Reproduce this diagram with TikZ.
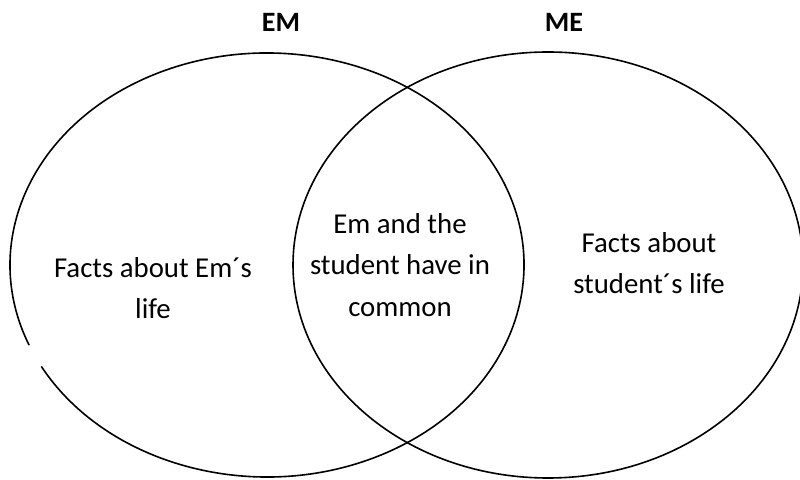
\documentclass[tikz,border=0pt]{standalone}
\usepackage{fontspec}
\setmainfont{Carlito}
\begin{document}
\begin{tikzpicture}[x=1pt,y=1pt,
  venn/.style={line width=1.6pt, black},
  lbl/.style={inner sep=0pt, align=center, font=\fontsize{28.8}{41.5}\selectfont},
  head/.style={inner sep=0pt, font=\fontsize{28}{32}\selectfont\bfseries}]
\useasboundingbox (0,0) rectangle (800,479);
\clip (0,0) rectangle (800,479);
% left ellipse (with small gap at lower left)
\draw[venn] (267,214) ++(208.6:257 and 212) arc[start angle=208.6, end angle=562.2, x radius=257, y radius=212];
% right ellipse
\draw[venn] (548,214) ellipse[x radius=255, y radius=213];
\node[head] (em) at (281,457) {EM};
\node[head] (me) at (564,457) {ME};
\node[lbl] (left) at (153,191) {Facts about Em´s\\life};
\node[lbl] (mid) at (400,214) {Em and the\\student have in\\common};
\node[lbl] (right) at (649,216) {Facts about\\student´s life};
\end{tikzpicture}
\end{document}
